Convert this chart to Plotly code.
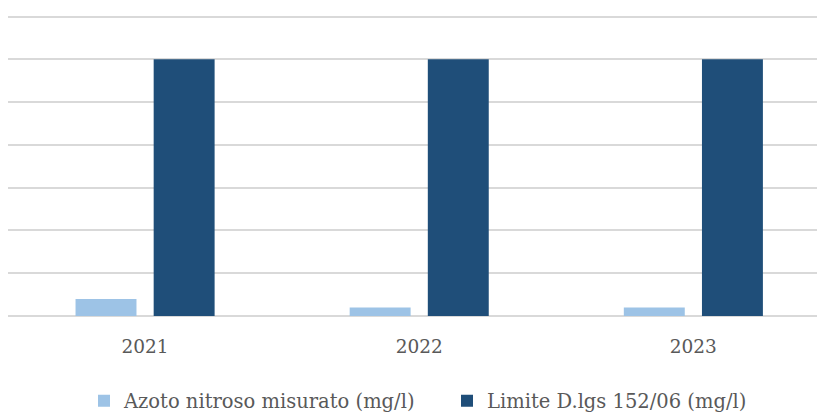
import plotly.graph_objects as go

years = ["2021", "2022", "2023"]
azoto_misurato = [0.04, 0.02, 0.02]
limite = [0.6, 0.6, 0.6]

FONT = "DejaVu Serif, serif"
TXT = "#595959"

fig = go.Figure()
fig.add_trace(go.Bar(x=years, y=azoto_misurato, name="Azoto nitroso misurato (mg/l)",
                     marker=dict(color="#9DC3E6", line=dict(width=0)), legend="legend"))
fig.add_trace(go.Bar(x=years, y=limite, name="Limite D.lgs 152/06 (mg/l)",
                     marker=dict(color="#1F4E79", line=dict(width=0)), legend="legend2"))

L, R, T, B = 8, 0, 15, 96
W, H = 817, 412
pw = W - L - R
ph = H - T - B

def px_to_paper_x(px):
    return (px - L) / pw

def px_to_paper_y(py):
    return (H - B - py) / ph

legend_style = dict(orientation="h", yanchor="middle", xanchor="left",
                    bgcolor="rgba(0,0,0,0)", borderwidth=0,
                    font=dict(family=FONT, size=19.5, color=TXT))

fig.update_layout(
    width=W, height=H,
    margin=dict(l=L, r=R, t=T, b=B, autoexpand=False),
    paper_bgcolor="white", plot_bgcolor="white",
    barmode="group", bargap=0.43, bargroupgap=0.22,
    font=dict(family=FONT, size=19, color=TXT),
    showlegend=True,
    legend=dict(x=px_to_paper_x(84), y=px_to_paper_y(401), **legend_style),
    legend2=dict(x=px_to_paper_x(447), y=px_to_paper_y(401), **legend_style),
)
fig.update_xaxes(range=[-0.5, 2.451], showgrid=False, showline=False,
                 ticks="outside", ticklen=13.5, tickcolor="rgba(0,0,0,0)",
                 tickfont=dict(family=FONT, size=18.5, color=TXT))
fig.update_yaxes(range=[0, 0.7035], dtick=0.1, showgrid=True, gridcolor="#D9D9D9", gridwidth=2,
                 zeroline=True, zerolinecolor="#D9D9D9", zerolinewidth=2,
                 showticklabels=False, ticks="")

fig.write_html("out.html", config={"displayModeBar": False},
               post_script="document.body.style.margin='0';")
